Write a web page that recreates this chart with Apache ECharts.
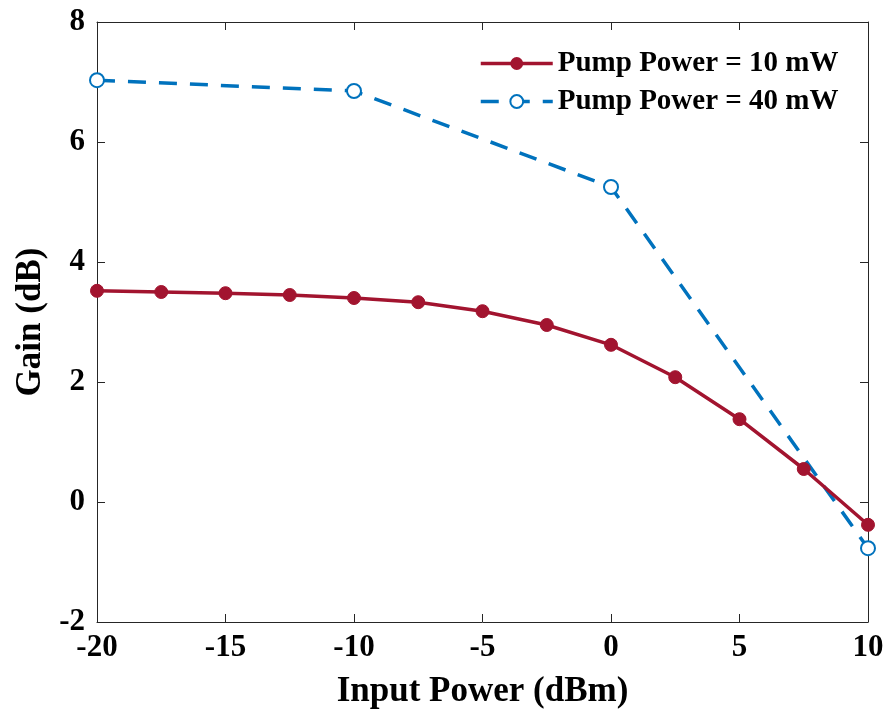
<!DOCTYPE html>
<html><head><meta charset="utf-8">
<script src="https://cdn.jsdelivr.net/npm/echarts@6/dist/echarts.min.js"></script>
<style>html,body{margin:0;padding:0;background:#fff}#c{width:888px;height:715px}</style>
</head><body><div id="c"></div>
<script>
const inputPower10 = [-20, -17.5, -15, -12.5, -10, -7.5, -5, -2.5, 0, 2.5, 5, 7.5, 10];
const gain10 = [3.52, 3.50, 3.48, 3.45, 3.40, 3.33, 3.18, 2.95, 2.62, 2.08, 1.38, 0.55, -0.38];
const inputPower40 = [-20, -10, 0, 10];
const gain40 = [7.03, 6.85, 5.25, -0.77];
const seriesNames = ['Pump Power = 10 mW', 'Pump Power = 40 mW'];

const font = '"Liberation Serif", "Times New Roman", serif';
const axisCol = '#262626';
const chart = echarts.init(document.getElementById('c'));
const baseAxis = {
  axisLine: {show: true, onZero: false, lineStyle: {color: axisCol, width: 1}},
  axisTick: {show: true, inside: true, length: 8, lineStyle: {color: axisCol}},
  splitLine: {show: false}
};
chart.setOption({
  animation: false,
  backgroundColor: '#fff',
  grid: {left: 97, right: 20, top: 22, bottom: 93},
  legend: {
    orient: 'vertical', left: 474, top: 44, itemWidth: 72, itemHeight: 16, itemGap: 9,
    lineStyle: {width: 3.5},
    textStyle: {fontFamily: font, fontWeight: 'bold', fontSize: 29, color: '#000'},
    data: seriesNames
  },
  xAxis: [
    Object.assign({}, baseAxis, {
      type: 'value', min: -20, max: 10, interval: 5, position: 'bottom',
      name: 'Input Power (dBm)', nameLocation: 'middle', nameGap: 52,
      nameTextStyle: {fontFamily: font, fontWeight: 'bold', fontSize: 35, color: '#000'},
      axisLabel: {fontFamily: font, fontWeight: 'bold', fontSize: 31, color: '#000', margin: 10}
    }),
    Object.assign({}, baseAxis, {
      type: 'value', min: -20, max: 10, interval: 5, position: 'top', axisLabel: {show: false}
    })
  ],
  yAxis: [
    Object.assign({}, baseAxis, {
      type: 'value', min: -2, max: 8, interval: 2, position: 'left',
      name: 'Gain (dB)', nameLocation: 'middle', nameGap: 46,
      nameTextStyle: {fontFamily: font, fontWeight: 'bold', fontSize: 35, color: '#000'},
      axisLabel: {fontFamily: font, fontWeight: 'bold', fontSize: 31, color: '#000', margin: 12}
    }),
    Object.assign({}, baseAxis, {
      type: 'value', min: -2, max: 8, interval: 2, position: 'right', axisLabel: {show: false}
    })
  ],
  series: [
    {
      name: seriesNames[0], type: 'line',
      data: inputPower10.map((x, i) => [x, gain10[i]]),
      symbol: 'circle', symbolSize: 13, showAllSymbol: true,
      lineStyle: {color: '#A2142F', width: 3.5},
      itemStyle: {color: '#A2142F', borderColor: '#A2142F'},
      z: 3
    },
    {
      name: seriesNames[1], type: 'line',
      data: inputPower40.map((x, i) => [x, gain40[i]]),
      symbol: 'emptyCircle', symbolSize: 14, showAllSymbol: true,
      lineStyle: {color: '#0072BD', width: 3.5, type: [18, 13]},
      itemStyle: {color: '#0072BD', borderColor: '#0072BD', borderWidth: 3.5},
      z: 2
    }
  ]
});
</script></body></html>
